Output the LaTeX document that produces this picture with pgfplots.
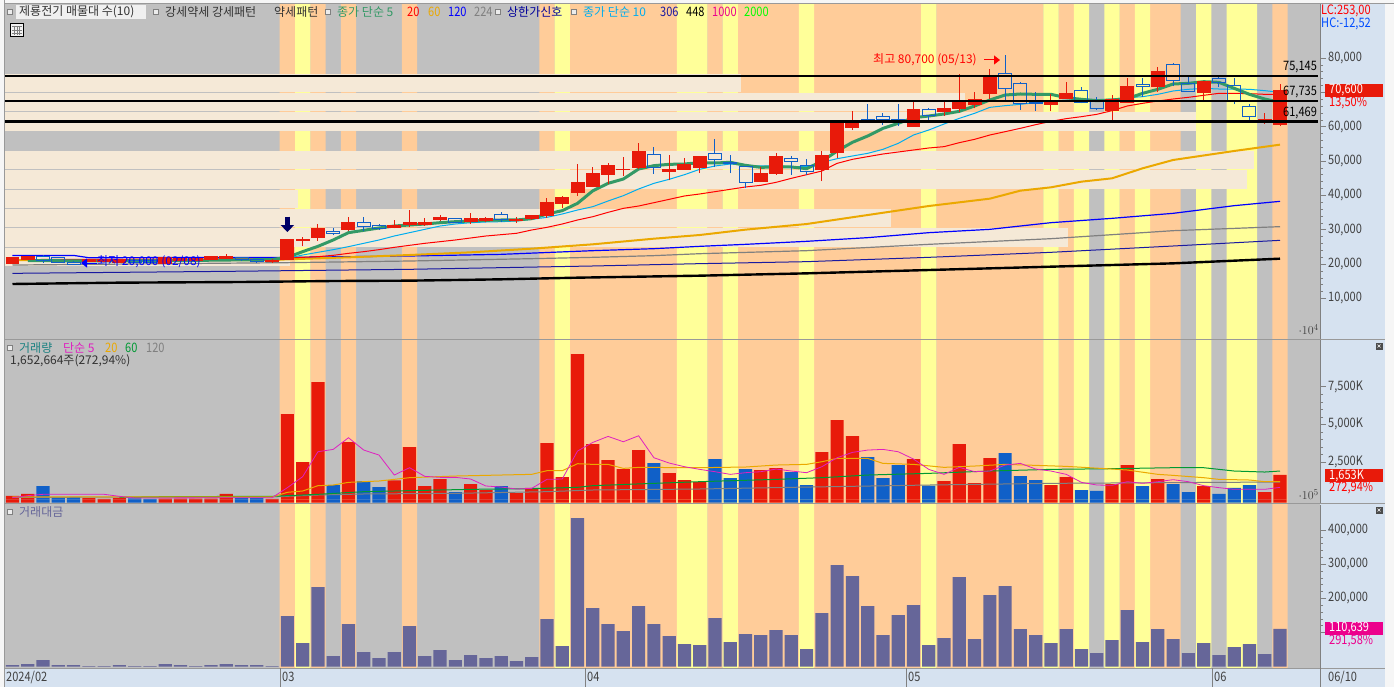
\documentclass[border=0pt]{standalone}
\usepackage{pgfplots}
\usepackage{pgfplotstable}
\pgfplotsset{compat=1.18}
\usepackage{fontspec}
\setmainfont[FakeStretch=0.85]{Noto Sans CJK KR}
\newfontfamily\kr{Noto Sans CJK KR}
\usetikzlibrary{arrows.meta}
\definecolor{bgray}{HTML}{C0C0C0}
\definecolor{borange}{HTML}{FFCC99}
\definecolor{byellow}{HTML}{FFFF99}
\definecolor{cream}{HTML}{F5E9D7}
\definecolor{panel}{HTML}{D6E2F0}
\definecolor{barred}{HTML}{E81A0A}
\definecolor{barblue}{HTML}{1060C8}
\definecolor{slate}{HTML}{666699}
\definecolor{magv}{HTML}{E020C0}
\definecolor{gold}{HTML}{EBA800}
\definecolor{greenma}{HTML}{339966}
\definecolor{greenv}{HTML}{009933}
\definecolor{navyb}{HTML}{1A1AA0}
\newcommand\T[4]{\node[anchor=west,inner sep=0pt,text=#3,font=\fontsize{13}{14}\selectfont] at (#1,#2) {#4};}
\newcommand\K[4]{\node[anchor=west,inner sep=0pt,text=#3,font=\fontsize{12}{13}\kr] at (#1,#2) {#4};}
\newcommand\Sq[2]{\draw[gray,fill=white!85!gray,line width=.7pt] (#1-2.5,#2-2.5) rectangle (#1+2.5,#2+2.5);}
\newcommand\cR[5]{\pgfmathsetmacro\xa{#1-.425}\pgfmathsetmacro\xb{#1+.425}%
\addplot[barred,line width=1pt] coordinates {(#1,#4)(#1,#5)};%
\addplot[fill=barred,draw=barred,line width=1pt] coordinates {(\xa,#2)(\xb,#2)(\xb,#3)(\xa,#3)} -- cycle;}
\newcommand\cB[5]{\pgfmathsetmacro\xa{#1-.425}\pgfmathsetmacro\xb{#1+.425}%
\addplot[barblue,line width=1pt] coordinates {(#1,#4)(#1,#2)};%
\addplot[barblue,line width=1pt] coordinates {(#1,#3)(#1,#5)};%
\addplot[draw=barblue,line width=1pt] coordinates {(\xa,#2)(\xb,#2)(\xb,#3)(\xa,#3)} -- cycle;}
\newcommand\Cr[3]{\addplot[fill=cream,draw=none] coordinates {(-0.6,#2)(#1,#2)(#1,#3)(-0.6,#3)} -- cycle;}
\pgfplotstableread{
i v b
0 243 -189
1 376 -189
5 110 -189
6 44 -189
7 110 -189
10 66 -189
11 66 -189
12 66 -189
13 66 -189
14 376 -189
17 44 -189
18 5680 -189
19 2497 -189
20 7801 -189
22 3823 -189
25 1282 -189
26 3492 -189
27 906 -189
28 1370 -189
30 1039 -189
31 641 -189
33 442 -189
34 774 -189
35 3757 -189
36 1503 -189
37 9658 -189
38 3691 -189
39 2630 -189
40 2033 -189
41 3293 -189
43 1768 -189
44 1304 -189
45 1171 -189
49 1967 -189
50 2100 -189
53 3160 -189
54 5282 -189
55 4221 -189
59 2696 -189
61 1238 -189
62 3691 -189
63 1105 -189
64 2763 -189
68 972 -189
69 1503 -189
72 1039 -189
73 2298 -189
75 1370 -189
78 906 -189
82 508 -189
83 1653 -189
}\volR
\pgfplotstableread{
i v b
2 906 -189
3 177 -189
4 177 -189
8 88 -189
9 44 -189
15 110 -189
16 110 -189
21 972 -189
23 1238 -189
24 840 -189
29 508 -189
32 906 -189
42 2431 -189
46 2696 -189
47 1437 -189
48 2033 -189
51 1834 -189
52 972 -189
56 2829 -189
57 1437 -189
58 2298 -189
60 928 -189
65 3094 -189
66 1569 -189
67 1304 -189
70 641 -189
71 575 -189
74 906 -189
76 1039 -189
77 508 -189
79 376 -189
80 774 -189
81 972 -189
}\volB
\pgfplotstableread{
i v
0 4870
1 7800
2 19500
3 4870
4 4870
5 1950
6 1950
7 4870
8 1950
9 1950
10 7800
11 4870
12 1950
13 4870
14 7800
15 4870
16 4870
17 1950
18 148150
19 69200
20 232950
21 31190
22 124760
23 42890
24 25340
25 42890
26 118910
27 31190
28 48735
29 19490
30 34110
31 25340
32 31190
33 16570
34 28270
35 139380
36 60430
37 434720
38 171550
39 124760
40 104290
41 177400
42 124760
43 89670
44 66280
45 63350
46 142310
47 72130
48 95520
49 92600
50 107220
51 92600
52 51660
53 156930
54 297280
55 265120
56 177400
57 92600
58 151080
59 180320
60 63350
61 83820
62 262190
63 80900
64 209560
65 235870
66 110140
67 92600
68 69200
69 110140
70 51660
71 39960
72 77980
73 165700
74 72130
75 110140
76 80900
77 39960
78 69200
79 34110
80 57510
81 66280
82 37040
83 110639
}\valT
\begin{document}
\begin{tikzpicture}[x=1pt,y=-1pt]
\path[use as bounding box] (0,0) rectangle (1394,687);
% window chrome
\fill[white!93!gray] (0,0) rectangle (1394,687);
\fill[panel] (5,668) rectangle (1385,687);
\fill[panel] (1320,4) rectangle (1385,687);
\fill[bgray] (5,4) rectangle (1320,668);
% background bands
\begin{axis}[at={(5pt,-668pt)},anchor=south west,scale only axis,width=1315pt,height=664pt,
  xmin=-0.491,xmax=85.62,ymin=0,ymax=1,hide axis]
\addplot[ybar interval,fill=borange,draw=none] coordinates {(17.5,1)(18.5,0)(19.5,1)(20.5,0)(21.5,1)(22.5,0)(25.5,1)(26.5,0)(34.5,1)(35.5,0)(36.5,1)(43.5,0)(45.5,1)(46.5,0)(47.5,1)(51.5,0)(52.5,1)(59.5,0)(60.5,1)(67.5,0)(68.5,1)(69.5,0)(72.5,1)(73.5,0)(74.5,1)(76.5,0)(82.5,1)(83.5,0)};
\addplot[ybar interval,fill=byellow,draw=none] coordinates {(18.5,1)(19.5,0)(35.5,1)(36.5,0)(43.5,1)(45.5,0)(46.5,1)(47.5,0)(51.5,1)(52.5,0)(59.5,1)(60.5,0)(67.5,1)(68.5,0)(69.5,1)(70.5,0)(71.5,1)(72.5,0)(73.5,1)(74.5,0)(77.5,1)(78.5,0)(79.5,1)(81.5,0)};
\end{axis}
% price pane
\begin{axis}[at={(5pt,-338.5pt)},anchor=south west,scale only axis,width=1315pt,height=334.5pt,
  xmin=-0.491,xmax=85.62,ymin=-1687,ymax=95686,
  axis x line=none,axis y line*=right,
  y axis line style={draw=gray,-},
  tick align=outside,major tick length=6pt,minor tick length=3pt,
  every tick/.style={gray},minor y tick num=4,
  ytick={10000,20000,30000,40000,50000,60000,70000,80000},
  yticklabels={{10,000},{20,000},{30,000},{40,000},{50,000},{60,000},{},{80,000}},
  yticklabel style={font=\fontsize{13}{14}\selectfont,text=black!75,inner sep=0pt,anchor=west,xshift=2pt}]
\Cr{47.7}{75309}{70069}
\Cr{62.4}{69778}{64538}
\Cr{77.5}{64247}{58803}
\Cr{81.3}{52894}{47742}
\Cr{80.85}{47422}{41920}
\Cr{18.7}{41600}{36389}
\Cr{57.5}{36069}{30858}
\Cr{69.1}{30538}{25036}
\Cr{18.2}{24716}{19505}
% moving averages
\addplot[black,line width=2.4pt] coordinates {(0,14180)(7,14570)(15,14760)(21,15050)(26,15150)(32,15540)(37,16020)(45,16600)(52,17280)(60,18250)(68,19220)(76,20190)(83,21550)};
\addplot[navyb,line width=1pt] coordinates {(0,17280)(14,17860)(26,18450)(38,19420)(45,20100)(52,20680)(60,21940)(68,23400)(76,25240)(83,26890)};
\addplot[gray,line width=1.2pt] coordinates {(0,19700)(18,20390)(26,20870)(34,21550)(38,21940)(42,22430)(45,23000)(52,23880)(60,25725)(68,27370)(76,29700)(83,30870)};
\addplot[blue,line width=1.2pt] coordinates {(0,22500)(4,22500)(5,21830)(18,21940)(26,22330)(32,22810)(38,23880)(42,24460)(45,25140)(48,25725)(52,26600)(56,27670)(60,29120)(64,30090)(68,32030)(72,33290)(76,34750)(80,36980)(83,38240)};
\addplot[gold,line width=2pt] coordinates {(0,21160)(17,21100)(18,21360)(22,21940)(26,22620)(30,23400)(34,24460)(38,25730)(42,27370)(45,28440)(48,30000)(52,31640)(56,34260)(60,36880)(64,39020)(66,41350)(68,42320)(70,43970)(72,44940)(74,47850)(76,50280)(80,52900)(83,54740)};
\addplot[red,line width=1pt] coordinates {(1,21300)(17,21500)(18,21747)(19,21940)(20,22135)(21,22520)(22,23105)(23,23590)(24,24175)(25,24850)(26,25435)(27,26020)(28,26500)(29,26990)(30,27570)(31,28150)(32,28540)(33,28930)(34,29900)(35,30675)(36,31645)(37,32810)(38,33770)(39,35040)(40,36200)(41,36880)(42,37850)(43,38820)(44,39800)(45,40380)(46,41060)(47,41740)(48,42420)(49,42900)(50,43770)(51,44940)(52,46000)(53,47070)(54,49300)(55,50470)(56,51250)(57,52020)(58,52600)(59,53190)(60,53770)(61,54160)(62,55320)(63,56290)(64,57550)(65,58520)(66,59500)(67,60560)(68,61530)(69,62310)(70,62890)(71,63570)(72,64640)(73,66000)(74,66770)(75,67450)(76,68030)(77,68520)(78,69100)(79,69680)(80,69680)(81,69590)(82,69390)(83,69390)};
\addplot[cyan,line width=1pt] coordinates {(1,21080)(17,21080)(18,21650)(19,22620)(20,23400)(21,24170)(22,25050)(23,26020)(24,26990)(25,28150)(26,29120)(27,30090)(28,31060)(29,31645)(30,32030)(31,32225)(32,32320)(33,32520)(34,33000)(35,33590)(36,34555)(37,35720)(38,36690)(39,38340)(40,39890)(41,41830)(42,43480)(43,44650)(44,46000)(45,47560)(46,48530)(47,49110)(48,48720)(49,48530)(50,48625)(51,48335)(52,48335)(53,49600)(54,50660)(55,51440)(56,52215)(57,53380)(58,55125)(59,57550)(60,59000)(61,60750)(62,62400)(63,63860)(64,65600)(65,66090)(66,66480)(67,66965)(68,67450)(69,67740)(70,67740)(71,67740)(72,68030)(73,68420)(74,68710)(75,69390)(76,70360)(77,70850)(78,71135)(79,70940)(80,70940)(81,70850)(82,70460)(83,69970)};
\addplot[greenma,line width=3pt] coordinates {(1,21000)(5,20900)(9,20900)(13,21100)(17,21300)(18,21940)(19,23590)(20,25140)(21,26990)(22,29120)(23,29800)(24,30480)(25,31060)(26,31350)(27,31640)(28,32030)(29,32320)(30,32520)(31,32710)(32,32810)(33,32810)(34,33200)(35,34555)(36,35525)(37,37660)(38,41300)(39,43480)(40,44740)(41,47650)(42,48630)(43,49010)(44,49110)(45,49500)(46,49400)(47,49600)(48,48720)(49,48140)(50,48240)(51,48240)(52,47750)(53,49890)(54,52890)(55,55420)(56,57260)(57,59490)(58,60950)(59,62600)(60,63080)(61,63665)(62,64440)(63,65995)(64,67740)(65,69195)(66,69490)(67,69390)(68,69390)(69,68420)(70,67935)(71,67550)(72,67740)(73,68130)(74,69680)(75,70850)(76,72400)(77,72590)(78,73075)(79,72885)(80,71135)(81,69390)(82,68030)(83,67060)};
% candles: index, body low, body high, low, high
\cR{0}{20200}{21750}{20200}{21750}
\cR{1}{21450}{22250}{21200}{22300}
\cB{2}{20950}{22050}{20300}{22600}
\cB{3}{20500}{21750}{20500}{21750}
\cB{4}{20000}{20500}{20000}{20900}
\cR{5}{20700}{21200}{20600}{21300}
\cR{6}{20800}{21200}{20800}{21200}
\cR{7}{20300}{21200}{20300}{21400}
\cB{8}{20500}{21000}{20500}{21000}
\cB{9}{20400}{20900}{20400}{20900}
\cR{10}{20100}{21750}{20100}{21750}
\cR{11}{21000}{21500}{21000}{21500}
\cR{12}{21100}{21500}{21100}{21500}
\cR{13}{21450}{22050}{21200}{22100}
\cR{14}{21650}{22250}{21500}{22900}
\cB{15}{21250}{21850}{21000}{21900}
\cB{16}{20700}{21450}{20500}{21500}
\cR{17}{20800}{21000}{20300}{21600}
\cR{18}{21360}{26987}{21360}{26987}
\cR{19}{26900}{27050}{25240}{27860}
\cR{20}{27666}{30480}{26790}{31640}
\cB{21}{28830}{29510}{28440}{30480}
\cR{22}{29900}{32226}{29700}{33680}
\cB{23}{30870}{32130}{29700}{33680}
\cB{24}{30380}{31255}{29900}{31640}
\cR{25}{30580}{31350}{30380}{32900}
\cR{26}{31450}{32226}{30770}{35720}
\cR{27}{31450}{32226}{31160}{33390}
\cR{28}{32810}{33680}{32420}{34260}
\cB{29}{32130}{33290}{31930}{33290}
\cR{30}{32320}{33100}{31740}{34840}
\cR{31}{32520}{33390}{32130}{33780}
\cB{32}{32810}{34460}{32130}{35140}
\cR{33}{32800}{33000}{31930}{33680}
\cR{34}{33100}{34260}{32700}{34260}
\cR{35}{34260}{37760}{33490}{39110}
\cR{36}{37470}{39500}{36200}{39700}
\cR{37}{40670}{43580}{39800}{49110}
\cR{38}{42700}{46200}{42415}{48240}
\cR{39}{45910}{48530}{43290}{49400}
\cR{40}{47450}{47650}{45620}{51150}
\cR{41}{47950}{52890}{47560}{55320}
\cB{42}{48040}{51920}{46200}{54060}
\cR{43}{47070}{47650}{44450}{51730}
\cR{44}{47650}{48820}{47650}{50860}
\cR{45}{47950}{51150}{46490}{51440}
\cB{46}{50370}{52215}{48330}{56390}
\cB{47}{49300}{49690}{46490}{51730}
\cB{48}{43675}{48430}{42220}{48430}
\cR{49}{44160}{46490}{43870}{48240}
\cR{50}{46490}{51150}{45910}{52310}
\cB{51}{49790}{50760}{45910}{51440}
\cB{52}{46980}{48720}{45810}{50570}
\cR{53}{47650}{51440}{44160}{52890}
\cR{54}{52600}{60950}{50860}{60950}
\cR{55}{59700}{61045}{59000}{64540}
\cB{56}{62000}{62200}{61335}{66575}
\cB{57}{62015}{62985}{60560}{63950}
\cB{58}{61400}{62100}{60170}{66575}
\cR{59}{60170}{64830}{60170}{67255}
\cB{60}{63180}{65000}{61630}{65315}
\cR{61}{64440}{65410}{63180}{67255}
\cR{62}{65410}{66870}{64345}{75310}
\cR{63}{66575}{68030}{65315}{70070}
\cR{64}{69490}{74435}{68030}{76765}
\cB{65}{71040}{75500}{67740}{80700}
\cB{66}{66770}{72590}{64830}{72980}
\cB{67}{66770}{67060}{64540}{70070}
\cR{68}{66575}{67255}{64440}{69490}
\cR{69}{68230}{69490}{68030}{72980}
\cB{70}{67060}{70555}{66770}{71525}
\cB{71}{65220}{67255}{64830}{68615}
\cR{72}{64540}{68030}{61630}{69200}
\cR{73}{66965}{71815}{66965}{74145}
\cB{74}{71620}{72300}{68710}{74145}
\cR{75}{71620}{76180}{70165}{77350}
\cB{76}{73370}{77930}{71815}{78415}
\cB{77}{70165}{72590}{70165}{74340}
\cR{78}{69875}{73270}{67740}{73270}
\cB{79}{72885}{74050}{71620}{74340}
\cB{80}{67255}{72010}{66575}{74145}
\cB{81}{62985}{65895}{61630}{66575}
\cR{82}{61530}{62015}{60755}{64050}
\cR{83}{60465}{70600}{60170}{72400}
% support and resistance lines
\addplot[black,line width=2.4pt] coordinates {(-0.49,74800)(85.5,74800)};
\addplot[black,line width=2.4pt] coordinates {(-0.49,67500)(85.5,67500)};
\addplot[black,line width=2.4pt] coordinates {(-0.49,61450)(85.5,61450)};
\draw[blue!40!black,line width=5.5pt,-{Triangle[width=13pt,length=7pt]}] (axis cs:18,33800) -- (axis cs:18,29300);
\end{axis}
% volume pane
\begin{axis}[at={(5pt,-502.5pt)},anchor=south west,scale only axis,width=1315pt,height=162.8pt,
  xmin=-0.491,xmax=85.62,ymin=-189,ymax=10620,
  axis x line=none,axis y line*=right,
  y axis line style={draw=gray,-},
  tick align=outside,major tick length=6pt,minor tick length=3pt,
  every tick/.style={gray},minor y tick num=4,
  ytick={2500,5000,7500},yticklabels={{2,500K},{5,000K},{7,500K}},
  yticklabel style={font=\fontsize{13}{14}\selectfont,text=black!75,inner sep=0pt,anchor=west,xshift=2pt}]
\addplot[ybar,bar width=13.2pt,bar shift=0pt,fill=barred,draw=none] table[x=i,y=v] {\volR};
\addplot[ybar,bar width=13.2pt,bar shift=0pt,fill=barred,draw=none] table[x=i,y=b] {\volR};
\addplot[ybar,bar width=13.2pt,bar shift=0pt,fill=barblue,draw=none] table[x=i,y=v] {\volB};
\addplot[ybar,bar width=13.2pt,bar shift=0pt,fill=barblue,draw=none] table[x=i,y=b] {\volB};
\addplot[gray,line width=1pt] coordinates {(0,155)(17,177)(20,309)(23,376)(29,420)(35,530)(38,641)(45,707)(51,818)(60,972)(68,1083)(83,1171)};
\addplot[greenv,line width=1pt] coordinates {(7,155)(10,199)(17,221)(20,354)(23,530)(26,597)(30,685)(34,729)(37,818)(38,928)(42,1083)(45,1193)(50,1348)(53,1459)(56,1635)(60,1746)(64,1901)(68,2011)(72,2055)(76,2122)(78,2122)(80,1901)(82,1834)(83,1901)};
\addplot[gold,line width=1pt] coordinates {(0,177)(17,177)(18,486)(19,575)(20,928)(21,972)(22,1149)(24,1238)(26,1459)(29,1569)(31,1613)(34,1680)(35,1923)(36,1923)(37,2387)(38,2343)(39,2343)(40,2077)(41,2144)(45,2122)(48,2166)(50,2298)(52,2343)(53,2519)(54,2740)(56,2740)(57,2409)(59,2343)(61,2144)(63,2232)(65,2343)(69,2210)(72,2033)(73,1967)(75,1680)(76,1613)(78,1459)(79,1348)(81,1304)(82,1193)(83,1193)};
\addplot[magv,line width=.8pt] coordinates {(0,133)(1,265)(2,354)(6,354)(7,221)(8,110)(17,133)(18,796)(19,1525)(20,3182)(21,3337)(22,4111)(23,3293)(24,2961)(25,1635)(26,2122)(27,1547)(28,1481)(29,1481)(30,1370)(31,906)(32,840)(33,707)(34,751)(35,1348)(36,1370)(37,3227)(38,3801)(39,4199)(40,3845)(41,4243)(42,2785)(43,2431)(44,2188)(45,2011)(46,1856)(47,1680)(48,1790)(49,1856)(50,2033)(51,1901)(52,1790)(53,2188)(54,2785)(55,3138)(56,3293)(57,3337)(58,3182)(59,2696)(60,2011)(61,1680)(62,2144)(63,1856)(64,1901)(65,2298)(66,2409)(67,2033)(68,1901)(69,1680)(70,1149)(71,972)(72,950)(73,1193)(74,1083)(75,1193)(76,1326)(77,1193)(78,928)(79,796)(80,685)(81,685)(82,685)(83,818)};
\end{axis}
% value pane
\begin{axis}[at={(5pt,-668.3pt)},anchor=south west,scale only axis,width=1315pt,height=163.8pt,
  xmin=-0.491,xmax=85.62,ymin=-4680,ymax=474270,
  axis x line=none,axis y line*=right,
  y axis line style={draw=gray,-},
  tick align=outside,major tick length=6pt,minor tick length=3pt,
  every tick/.style={gray},minor y tick num=4,
  ytick={100000,200000,300000,400000},yticklabels={{},{200,000},{300,000},{400,000}},
  yticklabel style={font=\fontsize{13}{14}\selectfont,text=black!75,inner sep=0pt,anchor=west,xshift=2pt}]
\addplot[ybar,bar width=13.2pt,bar shift=0pt,fill=slate,draw=none] table[x=i,y=v] {\valT};
\end{axis}
% frame lines
\draw[gray!80,line width=1pt] (5,3.5) -- (1394,3.5);
\draw[gray!80,line width=1pt] (4.5,0) -- (4.5,687);
\draw[gray!80,line width=1pt] (5,339) -- (1385,339);
\draw[gray!80,line width=1pt] (5,503.5) -- (1385,503.5);
\draw[gray!80,line width=1pt] (5,668.5) -- (1385,668.5);
\foreach \x in {280,585,906,1212,1320} \draw[gray,line width=.8pt] (\x,668) -- (\x,687);
% x labels
\T{6}{677}{black!75}{2024/02}
\T{282}{677}{black!75}{03}
\T{587}{677}{black!75}{04}
\T{908}{677}{black!75}{05}
\T{1214}{677}{black!75}{06}
\T{1328}{677}{black!75}{06/10}
% top legend
\fill[white!88!gray] (16,5) rectangle (146,19);
\Sq{10}{12}
\K{19}{12}{black!80}{제룡전기 매물대 수(10)}
\Sq{156}{12}
\K{165}{12}{black!80}{강세약세 강세패턴}
\K{274}{12}{black!80}{약세패턴}
\Sq{328}{12}
\K{337}{12}{greenma}{종가 단순 5}
\T{407}{12}{red}{20}
\T{428}{12}{gold}{60}
\T{448}{12}{blue}{120}
\T{474}{12}{gray}{224}
\Sq{498}{12}
\K{507}{12}{blue!60!black}{상한가신호}
\Sq{574}{12}
\K{583}{12}{cyan}{종가 단순 10}
\T{660}{12}{navyb}{306}
\T{686}{12}{black}{448}
\T{712}{12}{magenta}{1000}
\T{744}{12}{green}{2000}
\T{1321}{11}{red}{LC:253,00}
\T{1321}{24}{blue!70!cyan}{HC:-12,52}
% table icon
\draw[black,fill=white!90!gray,line width=.8pt] (10.5,23.5) rectangle (23.5,36.5);
\draw[gray,line width=.6pt] (12,26) -- (22,26) (12,30) -- (22,30) (12,33) -- (22,33) (14.5,26) -- (14.5,35) (17,26) -- (17,35) (19.5,26) -- (19.5,35);
% annotations
\K{873}{60}{red}{최고 80,700 (05/13)}
\draw[red,line width=1pt,-{Triangle[width=9pt,length=6pt]}] (984,60) -- (1000,60);
\draw[blue,line width=1pt,-{Triangle[width=9pt,length=6pt]}] (97,263) -- (81,263);
\K{97}{262}{blue}{최저 20,000 (02/08)}
\T{1283}{67}{black}{75,145}
\T{1283}{92}{black}{67,735}
\T{1283}{113}{black}{61,469}
% value boxes
\fill[barred] (1325,84) rectangle (1383,97);
\T{1329}{90.5}{white}{70,600}
\T{1329}{103}{red}{13,50\%}
\fill[barred] (1325,469) rectangle (1383,482);
\T{1329}{475.5}{white}{1,653K}
\T{1329}{488}{red}{272,94\%}
\fill[magenta] (1325,622) rectangle (1383,635);
\T{1329}{628.5}{white}{110,639}
\T{1329}{641}{magenta}{291,58\%}
% pane legends
\Sq{10}{348}
\K{19}{348}{teal!80!gray}{거래량}
\K{63}{348}{magv}{단순 5}
\T{105}{348}{gold}{20}
\T{125}{348}{greenv}{60}
\T{146}{348}{gray}{120}
\K{10}{361}{black!80}{1,652,664주(272,94\%)}
\Sq{10}{512}
\K{19}{512}{slate}{거래대금}
\foreach \y in {346,510} {\fill[black!70] (1375.5,\y-3.5) rectangle (1382.5,\y+3.5);
  \draw[white,line width=.6pt] (1377.5,\y-1.5) -- (1380.5,\y+1.5) (1377.5,\y+1.5) -- (1380.5,\y-1.5);}
\end{tikzpicture}
\end{document}
